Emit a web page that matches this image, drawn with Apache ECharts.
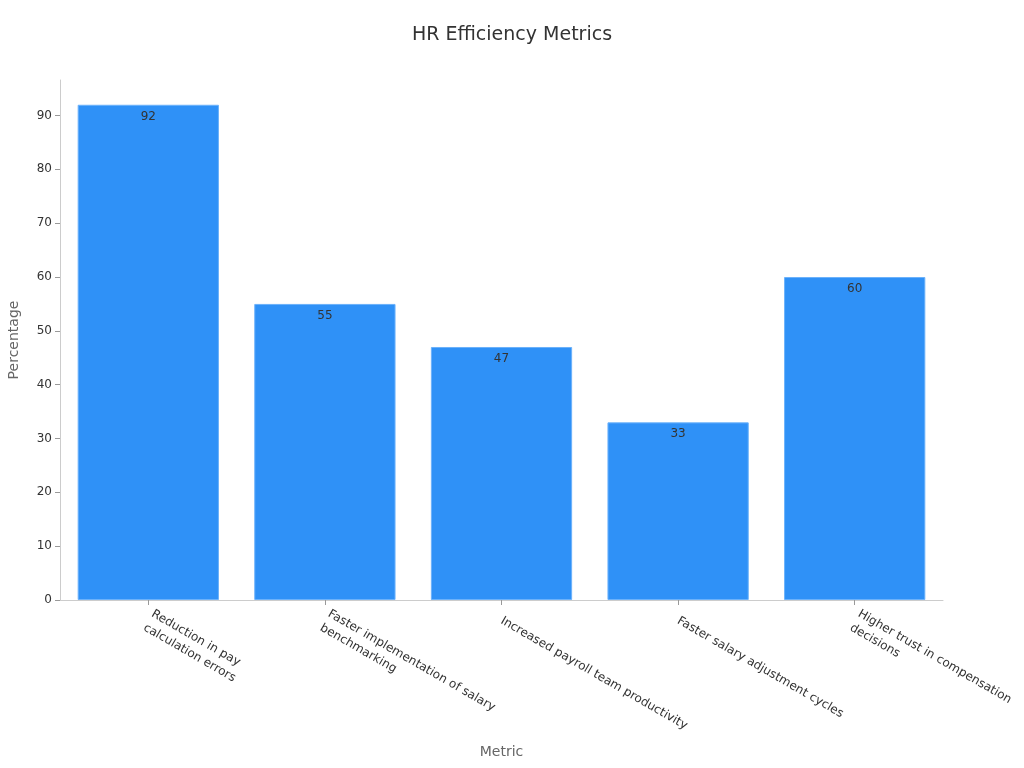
<!DOCTYPE html>
<html>
<head>
<meta charset="UTF-8">
<script src="https://cdn.jsdelivr.net/npm/echarts@6/dist/echarts.min.js"></script>
<style>
  html, body { margin: 0; padding: 0; background: #fff; }
  #chart { width: 1024px; height: 768px; }
</style>
</head>
<body>
<div id="chart"></div>
<script>
// categories as shown under the axis (line breaks as in the picture)
var metricLabels = [
  'Reduction in pay\ncalculation errors',
  'Faster implementation of salary\nbenchmarking',
  'Increased payroll team productivity',
  'Faster salary adjustment cycles',
  'Higher trust in compensation\ndecisions'
];
var percentValues = [92, 55, 47, 33, 60];
var yTicks = [0, 10, 20, 30, 40, 50, 60, 70, 80, 90];

var chart = echarts.init(document.getElementById('chart'));
var font = 'DejaVu Sans';

chart.setOption({
  animation: false,
  textStyle: { fontFamily: font },
  title: {
    text: 'HR Efficiency Metrics',
    left: 'center',
    top: 21,
    textStyle: { fontSize: 19, fontWeight: 'normal', color: '#333', fontFamily: font }
  },
  grid: { left: 60, right: 81, top: 80, bottom: 168, outerBoundsMode: 'none' },
  xAxis: {
    type: 'category',
    data: metricLabels,
    name: 'Metric',
    nameLocation: 'middle',
    nameGap: 145,
    nameTextStyle: { fontSize: 14, color: '#666' },
    axisLine: { lineStyle: { color: '#ccc' } },
    axisTick: { show: true, alignWithLabel: true, length: 5, lineStyle: { color: '#999' } },
    axisLabel: { rotate: -30, fontSize: 12, lineHeight: 16, color: '#333', interval: 0, margin: 20 }
  },
  yAxis: {
    type: 'value',
    min: 0,
    max: 96.6,
    name: 'Percentage',
    nameLocation: 'middle',
    nameGap: 39,
    nameTextStyle: { fontSize: 14, color: '#666' },
    axisLine: { show: true, lineStyle: { color: '#ccc' } },
    axisTick: { show: true, customValues: yTicks, lineStyle: { color: '#999' } },
    axisLabel: { fontSize: 12, color: '#333', customValues: yTicks },
    splitLine: { show: false }
  },
  series: [{
    type: 'bar',
    data: percentValues,
    barWidth: '80%',
    itemStyle: { color: '#2f91f7', borderColor: '#6cb2fb', borderWidth: 1 },
    label: {
      show: true,
      position: 'insideTop',
      distance: 6,
      fontSize: 12,
      color: '#333'
    }
  }]
});
</script>
</body>
</html>
